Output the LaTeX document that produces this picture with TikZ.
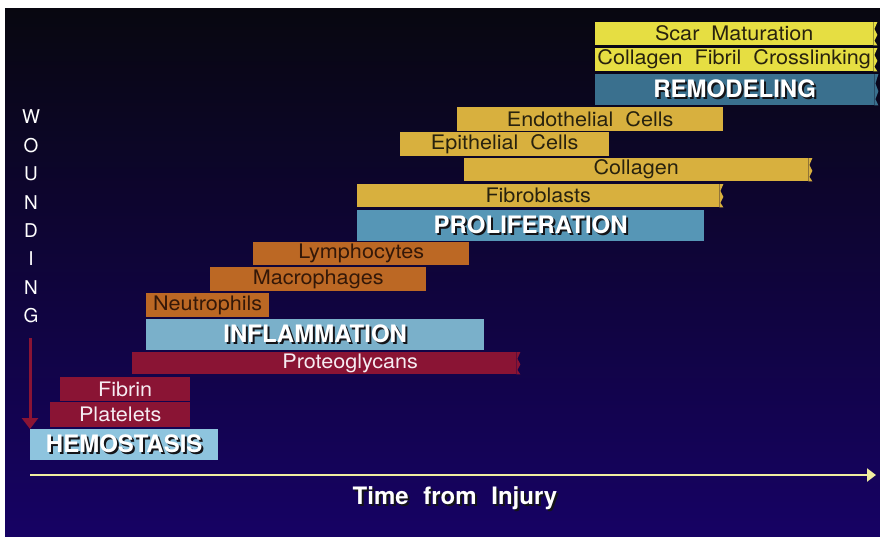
\documentclass[tikz,border=0pt]{standalone}
\usepackage{fontspec}
\setmainfont{TeX Gyre Heros}
\newfontfamily\lblfont[FakeStretch=1.08,WordSpace=2]{TeX Gyre Heros}
\newfontfamily\timefont[WordSpace=2.2]{TeX Gyre Heros}
\usetikzlibrary{arrows.meta, calc}

\definecolor{bgtop}{RGB}{8,7,16}
\definecolor{bgmid}{RGB}{20,4,78}
\definecolor{bgbot}{RGB}{22,2,100}
\definecolor{scarY}{RGB}{230,222,66}
\definecolor{remodB}{RGB}{58,112,142}
\definecolor{goldY}{RGB}{216,176,62}
\definecolor{prolifB}{RGB}{86,150,182}
\definecolor{orng}{RGB}{188,104,36}
\definecolor{inflamB}{RGB}{122,176,202}
\definecolor{crim}{RGB}{138,20,52}
\definecolor{hemoB}{RGB}{142,196,222}
\definecolor{axisY}{RGB}{240,238,160}
\definecolor{ink}{RGB}{40,34,14}
\definecolor{brown}{RGB}{52,24,8}
\definecolor{pinkw}{RGB}{246,236,242}
\definecolor{shadowc}{RGB}{20,20,24}

% white text with a dark drop shadow
\newcommand{\shadowed}[1]{\rlap{\kern2pt\raisebox{-2pt}{\textcolor{shadowc}{#1}}}#1}

\begin{document}
\begin{tikzpicture}[x=1pt, y=-1pt,
    bar/.style={anchor=north west, inner sep=0pt, font=\lblfont\fontsize{20}{20}\selectfont},
    scarbar/.style={bar, fill=scarY, text=ink},
    goldbar/.style={bar, fill=goldY, text=ink},
    orbar/.style={bar, fill=orng, text=brown},
    crbar/.style={bar, fill=crim, text=pinkw},
    phase/.style={anchor=north west, inner sep=0pt, minimum height=31pt, text=white,
      font=\bfseries\fontsize{24}{24}\selectfont},
    wound/.style={text=white, inner sep=0pt, font=\fontsize{19}{19}\selectfont},
    axis/.style={axisY, line width=2.2pt, -{Triangle[length=9pt, width=13pt]}},
    drop/.style={crim, line width=3pt, -{Triangle[length=11pt, width=16pt]}}
  ]
    \useasboundingbox (0,0) rectangle (880,536);
    \fill[white] (0,0) rectangle (880,536);
    \shade[top color=bgtop, middle color=bgmid, bottom color=bgbot] (5,8) rectangle (880,536);

    % remodeling
    \node[scarbar, minimum width=278pt, minimum height=23pt] (scar) at (595,22) {Scar Maturation};
    \node[scarbar, minimum width=278pt, minimum height=23pt] (cross) at (595,48) {Collagen Fibril Crosslinking};
    \node[phase, fill=remodB, minimum width=279pt] (remod) at (595,74) {\shadowed{REMODELING}};

    % proliferation
    \node[goldbar, minimum width=266pt, minimum height=24pt] (endo) at (457,107) {Endothelial Cells};
    \node[goldbar, minimum width=209pt, minimum height=24pt] (epi) at (400,132) {Epithelial Cells};
    \node[goldbar, minimum width=344pt, minimum height=23pt] (coll) at (464,158) {Collagen};
    \node[goldbar, minimum width=362pt, minimum height=23pt] (fibro) at (357,184) {Fibroblasts};
    \node[phase, fill=prolifB, minimum width=347pt] (prolif) at (357,210) {\shadowed{PROLIFERATION}};

    % inflammation
    \node[orbar, minimum width=216pt, minimum height=23pt] (lymph) at (253,242) {Lymphocytes};
    \node[orbar, minimum width=216pt, minimum height=24pt] (macro) at (210,267) {Macrophages};
    \node[orbar, minimum width=123pt, minimum height=24pt] (neutro) at (146,293) {Neutrophils};
    \node[phase, fill=inflamB, minimum width=338pt] (inflam) at (146,319) {\shadowed{INFLAMMATION}};
    \node[crbar, minimum width=384pt, minimum height=22pt] (proteo) at (132,352) {\hspace*{52pt}Proteoglycans};

    % hemostasis
    \node[crbar, minimum width=130pt, minimum height=24pt] (fibrin) at (60,377) {Fibrin};
    \node[crbar, minimum width=140pt, minimum height=25pt] (plate) at (50,402) {Platelets};
    \node[phase, fill=hemoB, minimum width=188pt] (hemo) at (30,429) {\shadowed{HEMOSTASIS}};

    % torn right ends
    \foreach \b/\c in {scar/scarY, cross/scarY, remod/remodB, coll/goldY, fibro/goldY, proteo/crim}
      \fill[\c] (\b.north east) -- ++(4,0)
        -- ($(\b.north east)!0.3!(\b.south east)+(1,0)$)
        -- ($(\b.north east)!0.55!(\b.south east)+(4,0)$)
        -- ($(\b.north east)!0.8!(\b.south east)+(1,0)$)
        -- ($(\b.south east)+(4,0)$) -- (\b.south east) -- cycle;

    % wounding
    \foreach \ch [count=\i from 0] in {W,O,U,N,D,I,N,G}
      \node[wound] (w\i) at (31,117+28.4*\i) {\ch};
    \coordinate (droptop) at (30,338);
    \draw[drop] (droptop) -- (hemo.north west);

    % time axis
    \coordinate (t0) at (30,475);
    \coordinate (t1) at (876,475);
    \draw[axis] (t0) -- (t1);
    \node[text=white, font=\timefont\bfseries\fontsize{24}{24}\selectfont] (time) at (455,499) {\shadowed{Time from Injury}};
\end{tikzpicture}
\end{document}
